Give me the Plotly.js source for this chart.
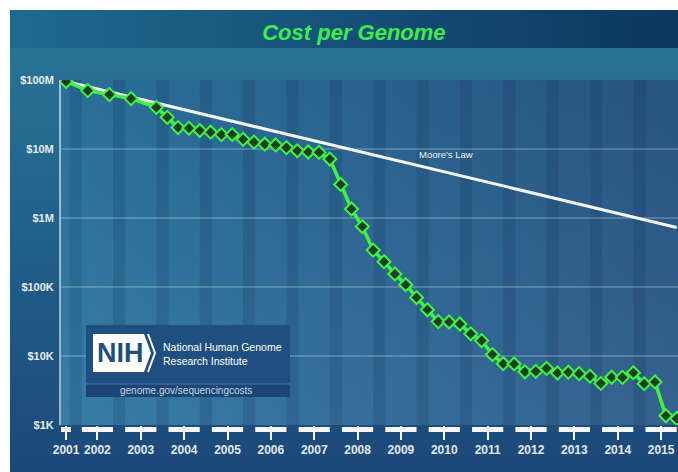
<!DOCTYPE html>
<html><head><meta charset="utf-8">
<script src="https://cdn.plot.ly/plotly-3.0.1.min.js"></script>
<style>
html,body{margin:0;padding:0;background:#fff;}
#chart{position:absolute;left:0;top:0;width:678px;height:472px;
background:
 linear-gradient(to bottom, rgba(0,0,0,0.06), rgba(255,255,255,0.05)) 61px 80px/617px 345px no-repeat,
 linear-gradient(to right,#2c76a0,#2a5989) 61px 80px/617px 345px no-repeat,
 linear-gradient(to right,#1f6a8f,#0c3660) 10px 10px/668px 38px no-repeat,
 linear-gradient(to bottom,#287393 0%,#21628c 40%,#1c4878 100%) 10px 48px/668px 424px no-repeat,
 #fff;}
</style></head>
<body><div id="chart"></div>
<script>
// ---- data ----
const months = ['2001-09','2002-03','2002-09','2003-03','2003-10',
 '2004-01','2004-04','2004-07','2004-10','2005-01','2005-04','2005-07','2005-10',
 '2006-01','2006-04','2006-07','2006-10','2007-01','2007-04','2007-07','2007-10',
 '2008-01','2008-04','2008-07','2008-10','2009-01','2009-04','2009-07','2009-10',
 '2010-01','2010-04','2010-07','2010-10','2011-01','2011-04','2011-07','2011-10',
 '2012-01','2012-04','2012-07','2012-10','2013-01','2013-04','2013-07','2013-10',
 '2014-01','2014-04','2014-07','2014-10','2015-01','2015-04','2015-07','2015-10'];
const costs = [95263072,70175437,61448422,53751684,40157554,
 28780376,20442576,19934346,18519312,17534970,16159699,16180224,13801124,
 12585659,11732535,11455315,10474556,9408739,9047003,8927342,7147571,
 3063820,1352982,752080,342502,232735,154714,108065,70333,
 46774,31512,31125,29092,20963,16712,10497,7743,
 7666,5901,5985,6618,5671,5826,5550,5096,
 4008,4920,4905,5731,3970,4211,1363,1245];
const mooreMonths = ['2001-09','2015-10'];
const mooreCost = [95263072, 730000];
const tickYears = [2001,2002,2003,2004,2005,2006,2007,2008,2009,2010,2011,2012,2013,2014,2015];
const yTickVals = [1e3,1e4,1e5,1e6,1e7,1e8];
const yTickText = ['$1K','$10K','$100K','$1M','$10M','$100M'];

// ---- helpers ----
const toYear = s => { const [y,m] = s.split('-').map(Number); return y + (m-1)/12; };
const X = px => (px-61)/617, Y = py => (425-py)/345;
const FONT = 'Liberation Sans, Arial, sans-serif';
const xr = [2001.55, 2015.78];
const tickPos = tickYears.map((y,i) => i===0 ? toYear(months[0]) : y + 0.39);

const shapes = [];
tickYears.forEach((y,i) => {
  if (i>0) shapes.push({type:'rect', layer:'below', xref:'x', yref:'paper',
    x0:y-0.25, x1:y+0.03, y0:0, y1:1, fillcolor:'rgba(10,30,70,0.14)', line:{width:0}});
  shapes.push({type:'rect', xref:'x', yref:'paper',
    x0: i===0 ? xr[0] : y+0.03, x1: i===0 ? 2001.78 : y+0.75,
    y0:Y(432), y1:Y(427), fillcolor:'#f4f6f8', line:{width:0}});
});
// NIH box
shapes.push({type:'rect', xref:'paper', yref:'paper', x0:X(86), x1:X(290), y0:Y(397), y1:Y(325), fillcolor:'#1f4f81', line:{width:0}});
shapes.push({type:'rect', xref:'paper', yref:'paper', x0:X(86), x1:X(290), y0:Y(397), y1:Y(384), fillcolor:'#1b4576', line:{width:0}});
shapes.push({type:'line', xref:'paper', yref:'paper', x0:X(86), x1:X(290), y0:Y(384), y1:Y(384), line:{color:'rgba(255,255,255,0.25)', width:1}});
shapes.push({type:'path', xref:'paper', yref:'paper',
  path:`M ${X(93)},${Y(334)} L ${X(144)},${Y(334)} L ${X(151)},${Y(353)} L ${X(144)},${Y(372)} L ${X(93)},${Y(372)} Z`,
  fillcolor:'#ffffff', line:{width:0}});
shapes.push({type:'path', xref:'paper', yref:'paper',
  path:`M ${X(148)},${Y(334)} L ${X(155)},${Y(353)} L ${X(148)},${Y(372)}`,
  line:{color:'#ffffff', width:2}});

const ann = (x, y, text, font, extra) => Object.assign({xref:'paper', yref:'paper', x, y, text, showarrow:false,
  xanchor:'center', yanchor:'middle', font}, extra||{});
const annotations = [
  {xref:'x', yref:'y', x:2010.43, y:Math.log10(8.2e6), text:"Moore's Law", showarrow:false,
   xanchor:'center', yanchor:'middle', font:{family:FONT, size:9.5, color:'#eef2f6'}},
  ann(X(120), Y(353), 'NIH', {family:FONT, size:27, color:'#1f4f81', weight:'bold'}),
  ann(X(161), Y(347), 'National Human Genome', {family:FONT, size:10.5, color:'#ffffff'}, {xanchor:'left'}),
  ann(X(161), Y(361), 'Research Institute', {family:FONT, size:10.5, color:'#ffffff'}, {xanchor:'left'}),
  ann(X(186), Y(390.5), 'genome.gov/sequencingcosts', {family:FONT, size:10, color:'#c9d6e2'})
];

const traces = [
  {x: mooreMonths.map(toYear), y: mooreCost, mode:'lines', line:{color:'#f2f4f6', width:3}, hoverinfo:'skip'},
  {x: months.map(toYear), y: costs, mode:'lines+markers',
   line:{color:'#3ef542', width:3.5},
   marker:{symbol:'diamond', size:10, color:'#1e3d22', line:{color:'#3ef542', width:2}}, hoverinfo:'skip'}
];

const layout = {
  width:678, height:472, showlegend:false,
  paper_bgcolor:'rgba(0,0,0,0)', plot_bgcolor:'rgba(0,0,0,0)',
  margin:{l:61, r:0, t:80, b:47, pad:0},
  title:{text:'Cost per Genome', xref:'container', yref:'container', x:0.522, y:0.932, yanchor:'middle', xanchor:'center',
    font:{family:FONT, size:22, color:'#3aee4e', weight:'bold', style:'italic'}},
  xaxis:{range:xr, showgrid:false, zeroline:false, showline:false,
    tickmode:'array', tickvals:tickPos, ticktext:tickYears.map(String),
    ticks:'outside', ticklen:14, tickwidth:2, tickcolor:'#f4f6f8',
    tickfont:{family:FONT, size:12, color:'#e2e8ec', weight:'bold'}},
  yaxis:{type:'log', range:[3,8], tickmode:'array', tickvals:yTickVals, ticktext:yTickText,
    showgrid:true, gridcolor:'rgba(255,255,255,0.2)', gridwidth:1.5, zeroline:false,
    showline:true, linecolor:'rgba(225,235,240,0.65)', linewidth:2, ticks:'',
    ticklabelstandoff:3,
    tickfont:{family:FONT, size:11, color:'#e6ecef', weight:'bold'}},
  shapes, annotations
};
Plotly.newPlot('chart', traces, layout, {displayModeBar:false, staticPlot:true});
</script></body></html>
